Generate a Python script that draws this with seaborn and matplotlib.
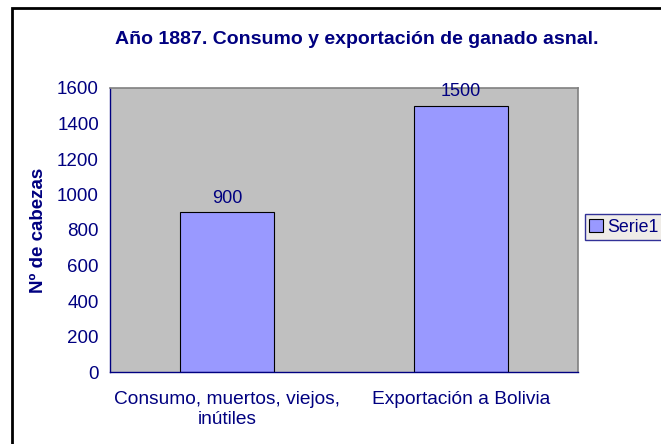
import matplotlib
matplotlib.use('Agg')
import matplotlib.pyplot as plt
import seaborn as sns
import pandas as pd
from matplotlib.patches import Rectangle

# Datos
categorias = ['Consumo, muertos, viejos,\ninútiles', 'Exportación a Bolivia']
cabezas = [900, 1500]
serie = 'Serie1'
yticks = [0, 200, 400, 600, 800, 1000, 1200, 1400, 1600]

azul = '#000080'

sns.set_style('white')
plt.rcParams['font.family'] = ['Liberation Sans', 'DejaVu Sans']

df = pd.DataFrame({'categoria': categorias, 'cabezas': cabezas})

fig = plt.figure(figsize=(6.61, 4.44), dpi=100)
ax = fig.add_axes([110 / 661, 1 - 372 / 444, (578 - 110) / 661, (372 - 88) / 444])
ax.set_facecolor('#c0c0c0')

sns.barplot(data=df, x='categoria', y='cabezas', color='#9999ff', edgecolor='black',
            linewidth=0.8, width=0.4, saturation=1, ax=ax, label=serie)

# etiquetas de datos sobre las barras
ax.bar_label(ax.containers[0], labels=[str(v) for v in cabezas], padding=4,
             fontsize=13, color=azul)

ax.set_xlim(-0.5, 1.5)
ax.set_ylim(0, 1600)
ax.set_yticks(yticks)
ax.set_yticklabels([str(t) for t in yticks], fontsize=13.5, color=azul)

# marcas del eje x entre categorías, etiquetas centradas
ax.set_xticks([-0.5, 0.5, 1.5])
ax.set_xticklabels(['', '', ''])
ax.set_xticks([0, 1], minor=True)
ax.set_xticklabels(categorias, minor=True, fontsize=13.8, color=azul)
ax.tick_params(axis='x', which='minor', length=0, pad=14)
ax.tick_params(axis='x', which='major', direction='out', length=5, color=azul, width=1)
ax.tick_params(axis='y', direction='out', length=5, color=azul, width=1, pad=3)

ax.set_xlabel('')
ax.set_ylabel('Nº de cabezas', fontsize=13.5, fontweight='bold', color=azul, labelpad=7)

for lado in ['top', 'right']:
    ax.spines[lado].set_color('#808080')
    ax.spines[lado].set_linewidth(1.2)
for lado in ['left', 'bottom']:
    ax.spines[lado].set_color(azul)
    ax.spines[lado].set_linewidth(1)
for lado in ax.spines:
    ax.spines[lado].set_visible(True)

fig.text(0.54, 1 - 39 / 444, 'Año 1887. Consumo y exportación de ganado asnal.',
         ha='center', va='center', fontsize=14, fontweight='bold', color=azul)

leg = ax.legend(loc='center left', bbox_to_anchor=(585 / 661, 1 - 227 / 444),
                bbox_transform=fig.transFigure, frameon=True, fancybox=False,
                fontsize=12.8, handlelength=0.75, handleheight=0.75, handletextpad=0.25,
                borderpad=0.25, borderaxespad=0)
leg.get_frame().set_edgecolor(azul)
leg.get_frame().set_facecolor('#ebe8e3')
leg.get_frame().set_linewidth(1)
for t in leg.get_texts():
    t.set_color(azul)

# marco exterior del área del gráfico (cortado a la derecha y abajo)
marco = Rectangle((12 / 661, -0.1), 1.2, 1 - 8 / 444 + 0.1, transform=fig.transFigure,
                  fill=False, edgecolor='black', linewidth=2, clip_on=False)
fig.patches.append(marco)

fig.savefig('out.png', dpi=100)
